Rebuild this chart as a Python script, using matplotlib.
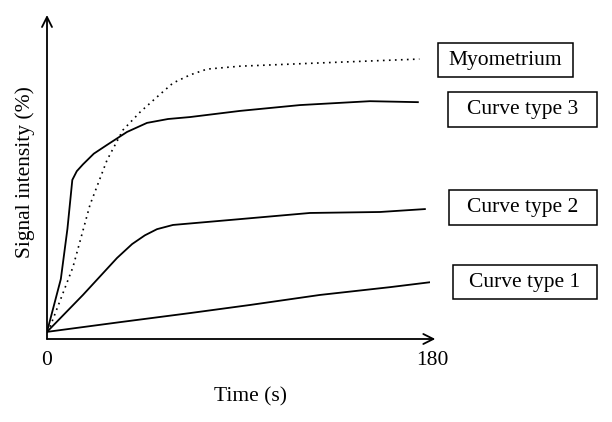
import matplotlib.pyplot as plt
from matplotlib.patches import Rectangle

plt.rcParams['font.family'] = ['Liberation Serif', 'DejaVu Serif']

# time in seconds, signal intensity in % of axis height
myo_t = [0, 1.4, 12.2, 20.2, 28.2, 35.7, 43.7, 51.7, 59.2, 67.2, 75.2, 90.7, 128, 175]
myo_s = [2.2, 3.7, 22.2, 41.4, 55.2, 64.5, 70, 74.7, 79, 81.5, 83.3, 84.2, 85.2, 86.4]

c3_t = [0, 6.5, 9.6, 11.9, 14, 16.9, 22, 28.2, 37.6, 47, 56.9, 67.2, 90.7, 118.9, 151.8, 174.3]
c3_s = [2.2, 18.5, 34, 49.1, 51.8, 53.9, 57.2, 59.9, 63.9, 66.7, 67.9, 68.5, 70.4, 72.2, 73.4, 73.1]

c2_t = [0, 16.9, 32.9, 40, 46, 51.7, 59.2, 90.7, 123.6, 156.5, 177.6]
c2_s = [2.2, 13.6, 25, 29.3, 32, 33.9, 35.2, 37, 38.9, 39.2, 40.1]

c1_t = [0, 34.3, 67.2, 95.4, 128.3, 161.2, 181]
c1_s = [2.2, 5.2, 8, 10.5, 13.6, 16, 17.6]

labels = ['Myometrium', 'Curve type 3', 'Curve type 2', 'Curve type 1']
# box positions in pixels (left, top, right, bottom)
boxes = [(438, 43, 573, 77), (448, 92, 597, 127), (449, 190, 597, 225), (453, 265, 597, 299)]

W, H = 612, 422
fig = plt.figure(figsize=(W / 100, H / 100), dpi=100)
ax = fig.add_axes([47 / W, (H - 339) / H, (430 - 47) / W, (339 - 15) / H])
ax.set_xlim(0, 180)
ax.set_ylim(0, 100)
for s in ax.spines.values():
    s.set_visible(False)
ax.set_xticks([])
ax.set_yticks([])

ax.plot(myo_t, myo_s, color='black', lw=1.2, linestyle=(0, (1, 2.6)))
ax.plot(c3_t, c3_s, color='black', lw=1.3)
ax.plot(c2_t, c2_s, color='black', lw=1.3)
ax.plot(c1_t, c1_s, color='black', lw=1.3)

# axes with arrows
ax.annotate('', xy=(182.5, 0), xytext=(0, 0), annotation_clip=False,
            arrowprops=dict(arrowstyle='->', color='black', lw=1.3,
                            shrinkA=0, shrinkB=0, mutation_scale=18))
ax.annotate('', xy=(0, 100), xytext=(0, 0), annotation_clip=False,
            arrowprops=dict(arrowstyle='->', color='black', lw=1.3,
                            shrinkA=0, shrinkB=0, mutation_scale=18))

fs = 15.5
ax.text(0, -6.5, '0', ha='center', va='center', fontsize=fs)
ax.text(181, -6.5, '180', ha='center', va='center', fontsize=fs)
fig.text(251 / W, 1 - 397 / H, 'Time (s)', ha='center', va='center', fontsize=fs)
fig.text(25 / W, 1 - 172 / H, 'Signal intensity (%)', ha='center', va='center',
         rotation=90, fontsize=fs)

for lab, (l, t, r, b) in zip(labels, boxes):
    fig.add_artist(Rectangle((l / W, 1 - b / H), (r - l) / W, (b - t) / H,
                             transform=fig.transFigure, fill=False,
                             edgecolor='black', lw=1.1))
    fig.text((l + r) / 2 / W, 1 - (t + b) / 2 / H, lab, ha='center', va='center',
             fontsize=fs)

fig.savefig('out.png', dpi=100)
